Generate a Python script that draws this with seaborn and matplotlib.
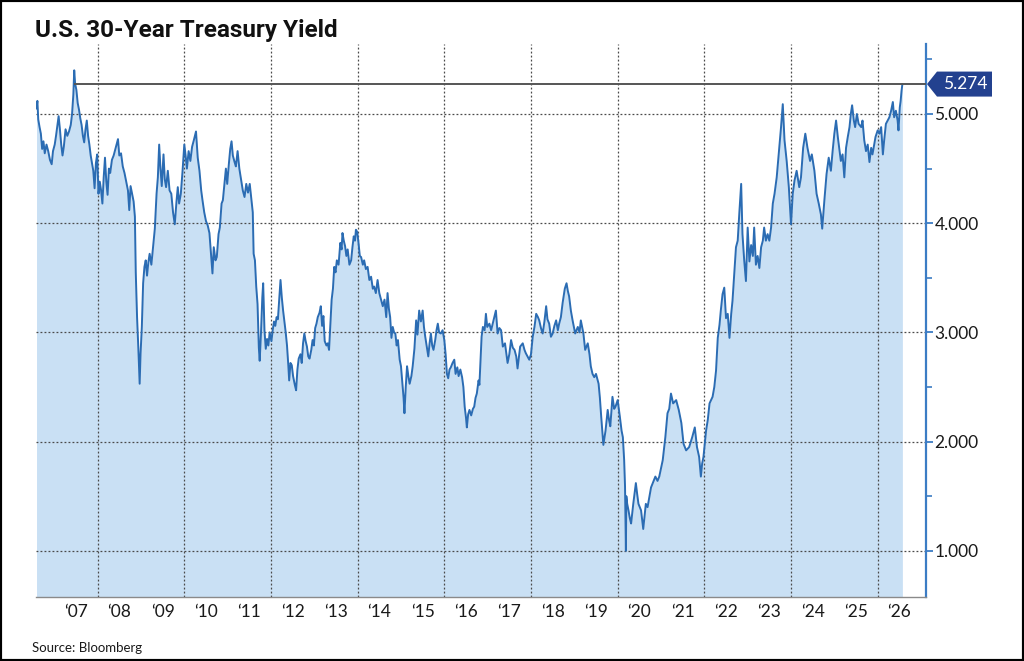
import matplotlib
matplotlib.use("Agg")

import matplotlib.pyplot as plt
import pandas as pd
import seaborn as sns
from matplotlib.patches import Polygon, Rectangle

TITLE = "U.S. 30-Year Treasury Yield"
SOURCE = "Source: Bloomberg"

# year (decimal) and yield (%)
years = [
    2006.59, 2006.61, 2006.63, 2006.66, 2006.69, 2006.72, 2006.75, 2006.78, 2006.82, 2006.86, 2006.90, 2006.94, 2006.97,
    2007.01, 2007.04, 2007.08, 2007.10, 2007.13, 2007.16, 2007.19, 2007.22, 2007.26, 2007.30, 2007.34, 2007.38, 2007.41,
    2007.44, 2007.46, 2007.48, 2007.51, 2007.54, 2007.57, 2007.60, 2007.63, 2007.66, 2007.69, 2007.72, 2007.75, 2007.78,
    2007.81, 2007.84, 2007.87, 2007.90, 2007.93, 2007.96, 2007.99,
    2008.02, 2008.05, 2008.08, 2008.11, 2008.14, 2008.17, 2008.20, 2008.23, 2008.26, 2008.29, 2008.33, 2008.37, 2008.41,
    2008.45, 2008.47, 2008.50, 2008.54, 2008.58, 2008.62, 2008.66, 2008.70, 2008.73, 2008.76, 2008.80, 2008.83, 2008.86,
    2008.88, 2008.91, 2008.94, 2008.97, 2008.99,
    2009.02, 2009.05, 2009.08, 2009.11, 2009.14, 2009.17, 2009.20, 2009.24, 2009.28, 2009.32, 2009.36, 2009.39, 2009.42,
    2009.45, 2009.48, 2009.52, 2009.55, 2009.58, 2009.62, 2009.66, 2009.70, 2009.74, 2009.78, 2009.82, 2009.85, 2009.88,
    2009.92, 2009.96,
    2010.00, 2010.03, 2010.06, 2010.10, 2010.14, 2010.18, 2010.22, 2010.27, 2010.31, 2010.35, 2010.39, 2010.42, 2010.46,
    2010.50, 2010.54, 2010.58, 2010.62, 2010.65, 2010.68, 2010.72, 2010.75, 2010.79, 2010.82, 2010.86, 2010.89, 2010.93,
    2010.96, 2010.99,
    2011.03, 2011.06, 2011.09, 2011.12, 2011.16, 2011.19, 2011.23, 2011.27, 2011.31, 2011.35, 2011.39, 2011.43, 2011.47,
    2011.51, 2011.55, 2011.58, 2011.60, 2011.63, 2011.66, 2011.69, 2011.72, 2011.74, 2011.77, 2011.80, 2011.82, 2011.85,
    2011.88, 2011.91, 2011.94, 2011.97,
    2012.01, 2012.04, 2012.07, 2012.10, 2012.13, 2012.16, 2012.19, 2012.22, 2012.25, 2012.28, 2012.31, 2012.34, 2012.37,
    2012.40, 2012.42, 2012.45, 2012.48, 2012.51, 2012.55, 2012.58, 2012.61, 2012.64, 2012.68, 2012.71, 2012.74, 2012.77,
    2012.80, 2012.83, 2012.86, 2012.89, 2012.93, 2012.96, 2012.99,
    2013.02, 2013.05, 2013.08, 2013.12, 2013.15, 2013.18, 2013.21, 2013.24, 2013.28, 2013.31, 2013.34, 2013.37, 2013.40,
    2013.43, 2013.46, 2013.49, 2013.52, 2013.56, 2013.60, 2013.63, 2013.65, 2013.68, 2013.71, 2013.74, 2013.77, 2013.81,
    2013.85, 2013.88, 2013.91, 2013.94, 2013.96, 2013.99,
    2014.02, 2014.05, 2014.08, 2014.12, 2014.15, 2014.19, 2014.23, 2014.27, 2014.31, 2014.35, 2014.38, 2014.42, 2014.46,
    2014.50, 2014.54, 2014.58, 2014.62, 2014.66, 2014.69, 2014.72, 2014.75, 2014.78, 2014.81, 2014.84, 2014.87, 2014.90,
    2014.93, 2014.97,
    2015.00, 2015.03, 2015.06, 2015.08, 2015.11, 2015.14, 2015.17, 2015.20, 2015.24, 2015.27, 2015.31, 2015.35, 2015.38,
    2015.42, 2015.46, 2015.50, 2015.53, 2015.56, 2015.60, 2015.63, 2015.66, 2015.69, 2015.72, 2015.75, 2015.79, 2015.82,
    2015.85, 2015.88, 2015.92, 2015.96,
    2016.00, 2016.03, 2016.06, 2016.09, 2016.12, 2016.15, 2016.19, 2016.23, 2016.26, 2016.30, 2016.33, 2016.37, 2016.41,
    2016.44, 2016.47, 2016.50, 2016.52, 2016.55, 2016.58, 2016.62, 2016.66, 2016.69, 2016.72, 2016.75, 2016.79, 2016.81,
    2016.86, 2016.89, 2016.93, 2016.96, 2016.99,
    2017.04, 2017.08, 2017.13, 2017.19, 2017.23, 2017.27, 2017.31, 2017.35, 2017.40, 2017.46, 2017.50, 2017.54, 2017.58,
    2017.62, 2017.66, 2017.69, 2017.75, 2017.81, 2017.85, 2017.88, 2017.92, 2017.96,
    2018.00, 2018.04, 2018.08, 2018.12, 2018.16, 2018.19, 2018.23, 2018.27, 2018.31, 2018.35, 2018.38, 2018.42, 2018.46,
    2018.50, 2018.54, 2018.58, 2018.62, 2018.65, 2018.69, 2018.73, 2018.78, 2018.82, 2018.85, 2018.88, 2018.92, 2018.96,
    2019.02, 2019.08, 2019.12, 2019.15, 2019.21, 2019.25, 2019.31, 2019.35, 2019.38, 2019.42, 2019.46, 2019.50, 2019.56,
    2019.59, 2019.62, 2019.67, 2019.72, 2019.77, 2019.80, 2019.83, 2019.88, 2019.92, 2019.95,
    2020.00, 2020.05, 2020.09, 2020.12, 2020.15, 2020.17, 2020.19, 2020.20, 2020.22, 2020.25, 2020.28, 2020.31, 2020.36,
    2020.42, 2020.45, 2020.48, 2020.54, 2020.59, 2020.65, 2020.69, 2020.73, 2020.77, 2020.81, 2020.87, 2020.92, 2020.96,
    2021.04, 2021.10, 2021.15, 2021.19, 2021.23, 2021.28, 2021.35, 2021.41, 2021.47, 2021.52, 2021.58, 2021.65, 2021.72,
    2021.78, 2021.83, 2021.88, 2021.92, 2021.95, 2021.98,
    2022.04, 2022.08, 2022.12, 2022.19, 2022.23, 2022.27, 2022.31, 2022.35, 2022.38, 2022.42, 2022.46, 2022.50, 2022.54,
    2022.58, 2022.62, 2022.65, 2022.69, 2022.73, 2022.77, 2022.81, 2022.85, 2022.88, 2022.92, 2022.96,
    2023.00, 2023.04, 2023.08, 2023.12, 2023.15, 2023.19, 2023.23, 2023.27, 2023.31, 2023.35, 2023.38, 2023.42, 2023.46,
    2023.50, 2023.54, 2023.58, 2023.62, 2023.67, 2023.73, 2023.77, 2023.81, 2023.85, 2023.90, 2023.95,
    2024.00, 2024.04, 2024.08, 2024.13, 2024.19, 2024.23, 2024.28, 2024.33, 2024.38, 2024.44, 2024.48, 2024.54, 2024.59,
    2024.64, 2024.69, 2024.72, 2024.77, 2024.82, 2024.87, 2024.92, 2024.96,
    2025.00, 2025.04, 2025.08, 2025.12, 2025.15, 2025.19, 2025.23, 2025.27, 2025.31, 2025.35, 2025.38, 2025.41, 2025.45,
    2025.48, 2025.52, 2025.56, 2025.62, 2025.65, 2025.69, 2025.73, 2025.77, 2025.81, 2025.85, 2025.88, 2025.95,
    2026.00, 2026.04, 2026.08, 2026.12, 2026.15, 2026.19, 2026.23, 2026.27, 2026.31, 2026.35, 2026.38, 2026.42, 2026.46,
    2026.48, 2026.51, 2026.53, 2026.55, 2026.57,
]

yields = [
    5.05, 5.12, 4.95, 4.88, 4.82, 4.68, 4.75, 4.64, 4.72, 4.66, 4.58, 4.54, 4.66,
    4.72, 4.80, 4.92, 4.98, 4.86, 4.72, 4.62, 4.70, 4.86, 4.80, 4.84, 4.90, 5.00,
    5.18, 5.40, 5.28, 5.22, 5.10, 5.04, 4.96, 4.90, 4.80, 4.74, 4.86, 4.94, 4.80,
    4.72, 4.62, 4.55, 4.48, 4.32, 4.55, 4.63,
    4.27, 4.38, 4.30, 4.18, 4.42, 4.60, 4.38, 4.26, 4.50, 4.46, 4.58, 4.62, 4.68,
    4.74, 4.77, 4.62, 4.64, 4.52, 4.46, 4.38, 4.30, 4.12, 4.34, 4.26, 4.20, 4.06,
    3.55, 3.14, 2.85, 2.53, 2.80,
    3.05, 3.45, 3.60, 3.66, 3.52, 3.64, 3.72, 3.62, 3.78, 3.95, 4.27, 4.42, 4.72,
    4.50, 4.34, 4.63, 4.40, 4.33, 4.48, 4.30, 4.27, 4.10, 3.99, 4.20, 4.33, 4.18,
    4.27, 4.48,
    4.72, 4.62, 4.50, 4.66, 4.57, 4.70, 4.76, 4.84, 4.60, 4.48, 4.30, 4.21, 4.10,
    4.02, 3.98, 3.91, 3.70, 3.54, 3.78, 3.66, 3.69, 3.90, 3.96, 4.18, 4.21, 4.38,
    4.50, 4.36,
    4.55, 4.68, 4.75, 4.62, 4.56, 4.52, 4.66, 4.50, 4.40, 4.30, 4.24, 4.36, 4.28,
    4.36, 4.21, 4.10, 3.72, 3.66, 3.42, 3.26, 2.86, 2.74, 3.00, 3.32, 3.45, 3.02,
    2.85, 2.94, 2.88, 3.00,
    2.92, 3.02, 3.10, 3.06, 3.14, 3.12, 3.30, 3.48, 3.32, 3.20, 3.10, 3.00, 2.88,
    2.70, 2.56, 2.72, 2.70, 2.60, 2.52, 2.47, 2.66, 2.76, 2.80, 2.72, 2.90, 2.99,
    2.92, 2.87, 2.78, 2.76, 2.84, 2.93, 2.88,
    3.04, 3.08, 3.14, 3.18, 3.24, 3.06, 3.15, 2.92, 2.88, 2.90, 2.84, 3.08, 3.30,
    3.40, 3.60, 3.55, 3.66, 3.62, 3.82, 3.76, 3.91, 3.84, 3.79, 3.70, 3.76, 3.62,
    3.66, 3.78, 3.88, 3.84, 3.94, 3.92,
    3.82, 3.70, 3.69, 3.62, 3.66, 3.58, 3.60, 3.48, 3.51, 3.40, 3.42, 3.36, 3.48,
    3.36, 3.30, 3.24, 3.30, 3.14, 3.36, 3.22, 3.14, 2.95, 3.05, 3.00, 2.99, 2.88,
    2.93, 2.75,
    2.69, 2.55, 2.40, 2.26, 2.50, 2.69, 2.60, 2.53, 2.60, 2.69, 2.85, 3.11, 2.98,
    3.20, 3.10, 3.20, 3.05, 2.96, 2.86, 2.78, 2.90, 2.99, 2.88, 2.84, 2.93, 3.02,
    3.08, 3.00, 2.99, 3.02,
    2.93, 2.80, 2.62, 2.58, 2.66, 2.68, 2.72, 2.75, 2.62, 2.68, 2.60, 2.66, 2.59,
    2.50, 2.32, 2.22, 2.13, 2.25, 2.29, 2.24, 2.30, 2.32, 2.40, 2.44, 2.56, 2.52,
    2.96, 3.05, 3.02, 3.17, 3.05,
    3.08, 3.02, 3.10, 3.20, 2.99, 3.04, 3.02, 2.87, 2.90, 2.72, 2.80, 2.93, 2.86,
    2.84, 2.78, 2.67, 2.87, 2.90, 2.84, 2.81, 2.78, 2.75,
    2.80, 2.96, 3.05, 3.17, 3.14, 3.11, 3.04, 2.99, 3.10, 3.24, 3.12, 3.08, 2.96,
    2.99, 3.06, 3.11, 3.02, 3.08, 3.14, 3.27, 3.40, 3.45, 3.38, 3.33, 3.20, 3.11,
    2.99, 3.05, 3.00, 3.11, 2.99, 2.84, 2.90, 2.80, 2.69, 2.62, 2.59, 2.62, 2.53,
    2.40, 2.23, 1.97, 2.10, 2.29, 2.20, 2.14, 2.41, 2.30, 2.32,
    2.38, 2.23, 2.10, 2.04, 1.83, 1.59, 1.00, 1.50, 1.43, 1.37, 1.30, 1.25, 1.43,
    1.62, 1.52, 1.43, 1.37, 1.20, 1.43, 1.40, 1.49, 1.58, 1.62, 1.68, 1.64, 1.68,
    1.83, 2.04, 2.26, 2.30, 2.44, 2.35, 2.38, 2.29, 2.17, 1.98, 1.92, 1.95, 2.04,
    2.13, 1.95, 1.86, 1.68, 1.80, 1.86,
    2.10, 2.20, 2.35, 2.41, 2.50, 2.65, 2.95, 3.07, 3.20, 3.35, 3.41, 3.13, 3.17,
    2.95, 3.17, 3.29, 3.53, 3.78, 3.84, 4.11, 4.36, 3.90, 3.66, 3.47,
    3.96, 3.65, 3.80, 3.70, 3.96, 3.62, 3.70, 3.59, 3.78, 3.84, 3.96, 3.84, 3.90,
    3.84, 3.96, 4.18, 4.27, 4.42, 4.69, 4.88, 5.09, 4.76, 4.57, 4.33,
    3.99, 4.27, 4.39, 4.48, 4.33, 4.42, 4.69, 4.82, 4.69, 4.57, 4.63, 4.48, 4.27,
    4.18, 4.08, 3.95, 4.21, 4.45, 4.60, 4.48, 4.66,
    4.82, 4.94, 4.79, 4.66, 4.57, 4.63, 4.42, 4.69, 4.79, 4.88, 5.00, 5.08, 4.94,
    4.88, 5.00, 4.91, 4.88, 4.94, 4.76, 4.66, 4.72, 4.56, 4.69, 4.63, 4.79,
    4.85, 4.82, 4.88, 4.63, 4.76, 4.91, 4.94, 4.97, 5.03, 5.11, 4.97, 5.03, 4.94,
    4.85, 5.06, 5.12, 5.21, 5.274,
]

year_labels = ["\u201807", "\u201808", "\u201809", "\u201810", "\u201811", "\u201812", "\u201813",
               "\u201814", "\u201815", "\u201816", "\u201817", "\u201818", "\u201819", "\u201820",
               "\u201821", "\u201822", "\u201823", "\u201824", "\u201825", "\u201826"]
label_years = list(range(2007, 2027))
y_ticks = [1, 2, 3, 4, 5]

LINE = "#2b6cb3"
FILL = "#c9e0f4"
SPINE = "#3b7cc4"
TAG = "#23418f"
GRID = "#4a4a4a"

sns.set_theme(style="white")
plt.rcParams["font.family"] = ["Lato", "DejaVu Sans"]

df = pd.DataFrame({"year": years, "yield": yields})
last = yields[-1]

W, H = 1024, 661
fig = plt.figure(figsize=(W / 100, H / 100), dpi=100)
ax = fig.add_axes([36 / W, 64 / H, 890 / W, 553 / H])

ax.fill_between(df["year"], df["yield"], 0, color=FILL, lw=0, zorder=1)
sns.lineplot(data=df, x="year", y="yield", color=LINE, lw=1.4, ax=ax, zorder=3)

ax.set_xlim(2006.578, 2027.115)
ax.set_ylim(0.577, 5.641)

dots = (0, (1.5, 1.7))
for v in y_ticks:
    ax.axhline(v, color=GRID, ls=dots, lw=0.9, zorder=2)
for yr in range(2008, 2027, 2):
    ax.axvline(yr, color=GRID, ls=dots, lw=0.9, zorder=2)

# reference line at latest value, from the first time it was reached
first_hit = df.loc[df["yield"] >= last, "year"].iloc[0]
ax.hlines(last, first_hit, ax.get_xlim()[1], color="#555555", lw=1.4, zorder=4)

# x axis: year boundary ticks, labels centred in each year
ax.set_xticks(range(2007, 2028))
ax.set_xticklabels([])
ax.set_xticks([y + 0.5 for y in label_years], minor=True)
ax.set_xticklabels(year_labels, minor=True)
ax.tick_params(axis="x", which="major", length=18, width=1, color="#a8a8a8", direction="out")
ax.tick_params(axis="x", which="minor", length=0, pad=5, labelsize=12.5, labelcolor="#1a1a1a")

# y axis on the right
ax.yaxis.tick_right()
ax.set_yticks(y_ticks)
ax.set_yticklabels([f"{v:.3f}" for v in y_ticks])
ax.set_yticks([v + 0.5 for v in y_ticks], minor=True)
ax.tick_params(axis="y", which="major", length=5, width=1.3, color=SPINE, pad=1,
               labelsize=12.5, labelcolor="#1a1a1a")
ax.tick_params(axis="y", which="minor", length=4, width=1.2, color=SPINE)
ax.set_xlabel("")
ax.set_ylabel("")

for s in ("left", "top"):
    ax.spines[s].set_visible(False)
ax.spines["right"].set_color(SPINE)
ax.spines["right"].set_linewidth(1.6)
ax.spines["bottom"].set_color("#8a8a8a")
ax.spines["bottom"].set_linewidth(1.0)

# value tag on the right axis
px, py = ax.transData.transform((ax.get_xlim()[1], last))
pts = [(px + 1, py), (px + 11, py + 12.5), (px + 66, py + 12.5), (px + 66, py - 12.5), (px + 11, py - 12.5)]
pts = fig.transFigure.inverted().transform(pts)
fig.add_artist(Polygon(pts, closed=True, fc=TAG, ec="none", transform=fig.transFigure))
tx, ty = fig.transFigure.inverted().transform((px + 39, py))
fig.text(tx, ty, f"{last:.3f}", color="white", fontsize=12.5, ha="center", va="center")

fig.text(35 / W, 1 - 37 / H, TITLE, fontsize=17.5, fontweight="bold", family=["Roboto", "DejaVu Sans"],
         ha="left", va="baseline", color="#111111")
fig.text(32 / W, 1 - 651.5 / H, SOURCE, fontsize=9.5, ha="left", va="baseline", color="#1a1a1a")

fig.add_artist(Rectangle((0, 0), 1, 1, transform=fig.transFigure, fill=False, ec="black", lw=3))

fig.savefig("out.png", dpi=100)
plt.close(fig)
